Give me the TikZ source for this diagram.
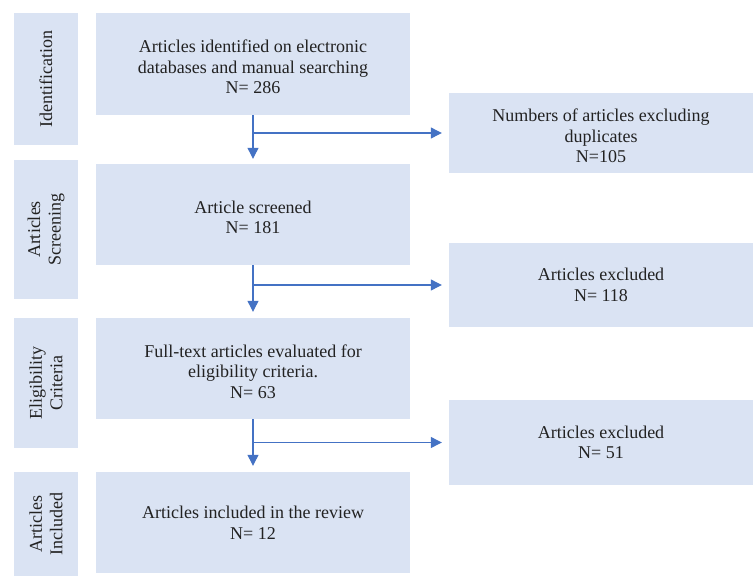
\documentclass[tikz,border=0pt]{standalone}
\usepackage{fontspec}
\setmainfont{Liberation Serif}
\usepackage{xcolor}
\usepackage{tikz}
\usetikzlibrary{arrows.meta,positioning,calc}

\definecolor{boxfill}{HTML}{DAE3F3}
\definecolor{flowblue}{HTML}{4472C4}
\definecolor{txtgrey}{HTML}{222222}

\newcommand{\lowstrut}{\rule{0pt}{18.5pt}}

\begin{document}
\begin{tikzpicture}[x=1pt, y=-1pt,
  font=\fontsize{18}{20.5}\selectfont, text=txtgrey,
  mainbox/.style={fill=boxfill, draw=none, inner sep=0pt, align=center, minimum width=314pt},
  sidebox/.style={fill=boxfill, draw=none, inner sep=0pt, align=center, minimum width=304pt},
  stagebox/.style={fill=boxfill, draw=none, inner sep=0pt, align=center, rotate=90, minimum height=64pt},
  flow/.style={draw=flowblue, line width=1.2pt, -{Triangle[length=11pt,width=11pt]}}]
\useasboundingbox (0,0) rectangle (753,576);
% stages on the left
\node[stagebox, minimum width=132pt] (sid) at (46,79) {Identification};
\node[stagebox, minimum width=139pt] (sscr) at (46,229.5) {Articles\\Screening};
\node[stagebox, minimum width=130pt] (selig) at (46,383) {Eligibility\\Criteria};
\node[stagebox, minimum width=104pt] (sinc) at (46,524) {Articles\\Included};
% main column
\node[mainbox, minimum height=102pt] (b1) at (253,64) {\lowstrut Articles identified on electronic\\databases and manual searching\\N= 286};
\node[mainbox, minimum height=101pt] (b2) at (253,214.5) {\lowstrut Article screened\\N= 181};
\node[mainbox, minimum height=101pt] (b3) at (253,368.5) {\lowstrut Full-text articles evaluated for\\eligibility criteria.\\N= 63};
\node[mainbox, minimum height=101pt] (b4) at (253,522.5) {Articles included in the review\\N= 12};
% excluded on the right
\node[sidebox, minimum height=80pt] (r1) at (601,133) {\lowstrut Numbers of articles excluding\\duplicates\\N=105};
\node[sidebox, minimum height=84pt] (r2) at (601,285) {Articles excluded\\N= 118};
\node[sidebox, minimum height=85pt] (r3) at (601,442.5) {Articles excluded\\N= 51};
% arrows
\draw[flow, shorten >=5pt] (b1.south) -- (b2.north);
\draw[flow, shorten >=6pt] (b2.south) -- (b3.north);
\draw[flow, shorten >=6pt] (b3.south) -- (b4.north);
\draw[flow, shorten >=7pt] (b1.south |- r1.west) -- (r1.west);
\draw[flow, shorten >=7pt] (b2.south |- r2.west) -- (r2.west);
\draw[flow, shorten >=7pt] (b3.south |- r3.west) -- (r3.west);
\end{tikzpicture}
\end{document}
